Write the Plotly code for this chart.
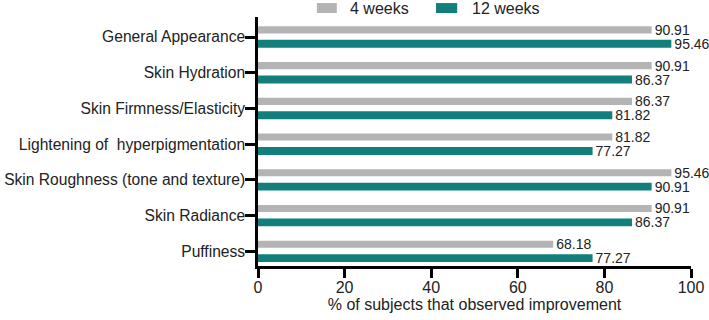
import plotly.graph_objects as go

categories = ["General Appearance", "Skin Hydration", "Skin Firmness/Elasticity",
              "Lightening of  hyperpigmentation", "Skin Roughness (tone and texture)",
              "Skin Radiance", "Puffiness"]
weeks4 = [90.91, 90.91, 86.37, 81.82, 95.46, 90.91, 68.18]
weeks12 = [95.46, 86.37, 81.82, 77.27, 90.91, 86.37, 77.27]
x_ticks = [0, 20, 40, 60, 80, 100]
series_names = ["4 weeks", "12 weeks"]

GRAY = "#b4b4b4"
TEAL = "#127f7c"
FONT = "Liberation Sans"

fig = go.Figure()
fig.add_trace(go.Bar(
    y=categories, x=weeks4, orientation="h", name=series_names[0],
    marker=dict(color=GRAY, line=dict(width=0)),
    width=0.2, offset=-0.30,
    text=[f"{v:.2f}" for v in weeks4], textposition="outside", constraintext="none",
    textfont=dict(size=14, color="#222"), cliponaxis=False,
))
fig.add_trace(go.Bar(
    y=categories, x=weeks12, orientation="h", name=series_names[1],
    marker=dict(color=TEAL, line=dict(width=0)),
    width=0.22, offset=0.08,
    text=[f"{v:.2f}" for v in weeks12], textposition="outside", constraintext="none",
    textfont=dict(size=14, color="#222"), cliponaxis=False,
))

# manual legend (wide swatches like the original)
legend_items = [(series_names[0], GRAY, 0.136, 0.182, 0.208),
                (series_names[1], TEAL, 0.411, 0.460, 0.490)]
for name, col, x0, x1, xt in legend_items:
    fig.add_shape(type="rect", xref="paper", yref="paper", x0=x0, x1=x1, y0=1.016, y1=1.056,
                  fillcolor=col, line=dict(width=0))
    fig.add_annotation(xref="paper", yref="paper", x=xt, y=1.036, text=name, showarrow=False,
                       xanchor="left", yanchor="middle", font=dict(size=16))

fig.update_layout(
    width=709, height=320,
    margin=dict(l=258, r=18, t=17, b=54, autoexpand=False),
    barmode="overlay",
    plot_bgcolor="white", paper_bgcolor="white",
    font=dict(family=FONT, size=16, color="#222"),
    showlegend=False,
)
fig.update_xaxes(
    range=[0, 100], tickvals=x_ticks, ticks="outside", ticklen=9, tickwidth=2.5,
    showline=True, linewidth=2.5, linecolor="black", tickcolor="black",
    showgrid=False, zeroline=False,
    title=dict(text="% of subjects that observed improvement", standoff=1, font=dict(size=16)),
    tickfont=dict(size=16), ticklabelstandoff=-4,
)
fig.update_yaxes(
    autorange=False, range=[6.41, -0.56], categoryorder="array", categoryarray=categories,
    ticks="outside", ticklen=10, tickwidth=2.5, tickcolor="black",
    showline=True, linewidth=2.5, linecolor="black", showgrid=False, zeroline=False,
    tickfont=dict(size=15.6), ticklabelstandoff=-3,
)
fig.write_html("out.html")
